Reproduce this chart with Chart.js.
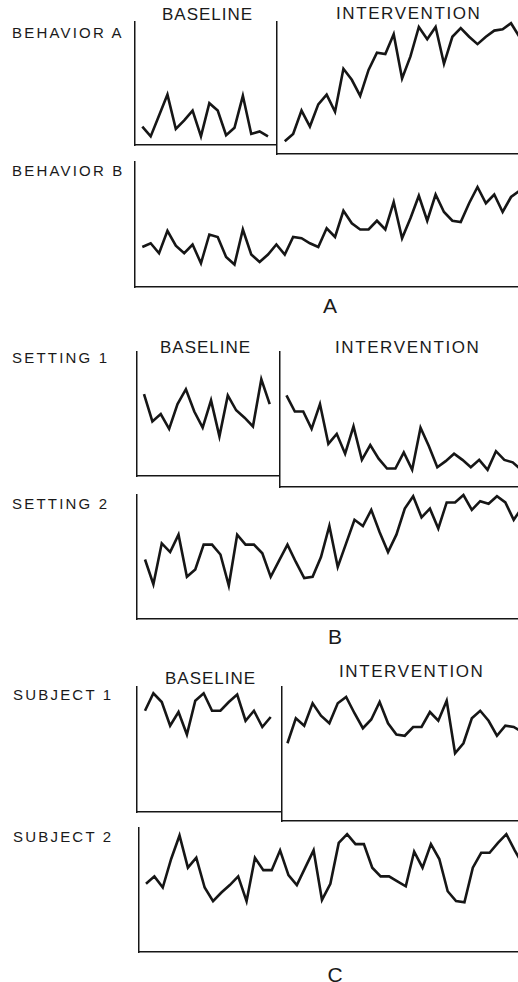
<!DOCTYPE html>
<html>
<head>
<meta charset="utf-8">
<script src="https://cdn.jsdelivr.net/npm/chart.js@4.4.1/dist/chart.umd.min.js"></script>
<style>
  html, body { margin: 0; padding: 0; background: #fff; }
  body { width: 518px; height: 982px; position: relative; overflow: hidden;
         font-family: "Liberation Sans", Arial, sans-serif; color: #1a1a1a; }
  canvas { position: absolute; }
  .lbl { position: absolute; white-space: nowrap; line-height: 1; }
  .side { font-size: 15px; letter-spacing: 2.2px; }
  .base { font-size: 17px; letter-spacing: 1px; }
  .int { font-size: 17px; letter-spacing: 1.6px; }
  .letter { font-size: 21px; width: 40px; text-align: center; }
</style>
</head>
<body>
<div class="lbl side" style="left:12px;top:25px">BEHAVIOR A</div>
<div class="lbl side" style="left:12px;top:163px">BEHAVIOR B</div>
<div class="lbl side" style="left:12px;top:350px">SETTING 1</div>
<div class="lbl side" style="left:12px;top:496px">SETTING 2</div>
<div class="lbl side" style="left:13px;top:687px">SUBJECT 1</div>
<div class="lbl side" style="left:13px;top:829px">SUBJECT 2</div>

<div class="lbl base" style="left:162px;top:6px">BASELINE</div>
<div class="lbl int" style="left:336px;top:5px">INTERVENTION</div>
<div class="lbl base" style="left:160px;top:339px">BASELINE</div>
<div class="lbl int" style="left:335px;top:339px">INTERVENTION</div>
<div class="lbl base" style="left:165px;top:670px">BASELINE</div>
<div class="lbl int" style="left:339px;top:663px">INTERVENTION</div>

<div class="lbl letter" style="left:310px;top:295px">A</div>
<div class="lbl letter" style="left:315px;top:626px">B</div>
<div class="lbl letter" style="left:315px;top:964px">C</div>

<script>
// sessions numbered from 0, intervention phase begins at session 17
var phaseStart = 17;

var behaviorA_base = [15, 7, 24, 41, 13, 20, 28, 7, 34, 28, 8, 14, 40, 9, 11, 7];
var behaviorA_int = [3, 9, 28, 15, 33, 41, 27, 62, 53, 40, 61, 75, 74, 90, 54, 72, 96, 86, 96, 66,
                     88, 95, 88, 82, 88, 93, 94, 99, 88];
var behaviorB = [32, 35, 27, 45, 33, 27, 34, 19, 42, 40, 24, 18, 46, 26, 20, 26, 34, 26, 40, 39,
                 35, 32, 47, 40, 61, 51, 46, 46, 53, 46, 68, 39, 55, 73, 53, 74, 60, 53, 52, 67,
                 80, 67, 74, 60, 72, 77];

var setting1_base = [66, 44, 50, 38, 58, 70, 52, 39, 61, 32, 65, 53, 47, 40, 78, 58];
var setting1_int = [65, 52, 52, 38, 58, 26, 34, 18, 40, 13, 25, 14, 6, 6, 19, 5, 39, 24, 7, 12,
                    18, 13, 7, 13, 5, 20, 13, 11, 5];
var setting2 = [48, 28, 61, 54, 68, 34, 40, 60, 60, 52, 27, 68, 60, 60, 53, 34, 47, 60, 46, 33,
                34, 50, 75, 42, 61, 80, 75, 88, 70, 54, 68, 89, 99, 82, 89, 73, 94, 94, 100, 88,
                95, 93, 99, 94, 80, 90];

var subject1_base = [81, 95, 88, 69, 80, 62, 89, 95, 81, 81, 88, 94, 73, 81, 68, 76];
var subject1_int = [55, 75, 69, 87, 77, 71, 87, 92, 79, 67, 74, 88, 71, 62, 61, 68, 68, 80, 73, 89,
                    47, 55, 75, 81, 73, 61, 69, 68, 64];
var subject2 = [55, 61, 52, 75, 94, 68, 76, 52, 41, 48, 54, 61, 41, 76, 66, 66, 82, 62, 54, 68,
                82, 42, 55, 88, 95, 87, 87, 68, 61, 61, 57, 53, 81, 68, 87, 75, 49, 41, 40, 68,
                80, 80, 88, 95, 82, 70];

var STEP = 8.38;   // px per session
var INK = "#161616";
var PAD = 2;

function points(values, start) {
  return values.map(function (v, i) { return { x: start + i, y: v }; });
}

// one chart = one set of axes (left + bottom line)
function addChart(left, top, right, bottom, firstX, yMin, values, start) {
  var c = document.createElement("canvas");
  c.width = right - left + PAD;
  c.height = bottom - top + PAD * 2;
  c.style.left = (left - PAD) + "px";
  c.style.top = (top - PAD) + "px";
  document.body.appendChild(c);
  var axis = function (min, max) {
    return {
      type: "linear", min: min, max: max,
      ticks: { display: false },
      grid: { display: false, drawTicks: false },
      border: { display: true, color: INK, width: 1.5 }
    };
  };
  return new Chart(c, {
    type: "line",
    data: {
      datasets: [{
        data: points(values, start),
        borderColor: INK,
        borderWidth: 2.6,
        pointRadius: 0,
        tension: 0,
        clip: false
      }]
    },
    options: {
      responsive: false,
      animation: false,
      events: [],
      layout: { padding: { left: PAD, top: PAD, right: 0, bottom: PAD } },
      plugins: { legend: { display: false }, tooltip: { enabled: false } },
      scales: {
        x: axis((left - firstX) / STEP, (right - firstX) / STEP),
        y: axis(yMin, 100)
      }
    }
  });
}

// panel with a baseline / intervention split and a staggered second axis
function splitPanel(g, base, inter) {
  addChart(g.axisX, g.top, g.phaseX, g.baseBottom, g.firstX, 0, base, 0);
  var drop = -(g.intBottom - g.baseBottom) / (g.baseBottom - g.top) * 100;
  addChart(g.phaseX, g.top, 518, g.intBottom, g.firstX, drop, inter, phaseStart);
}

function fullPanel(g, values) {
  addChart(g.axisX, g.top, 518, g.bottom, g.firstX, 0, values, 0);
}

splitPanel({ axisX: 135, phaseX: 277, top: 22, baseBottom: 145, intBottom: 154, firstX: 142.3 },
           behaviorA_base, behaviorA_int);
fullPanel({ axisX: 135, top: 162, bottom: 287, firstX: 142.3 }, behaviorB);

splitPanel({ axisX: 137, phaseX: 280, top: 352, baseBottom: 476, intBottom: 487, firstX: 144 },
           setting1_base, setting1_int);
fullPanel({ axisX: 137, top: 495, bottom: 619, firstX: 145 }, setting2);

splitPanel({ axisX: 137, phaseX: 282, top: 687, baseBottom: 812, intBottom: 821, firstX: 145 },
           subject1_base, subject1_int);
fullPanel({ axisX: 139, top: 828, bottom: 952, firstX: 146 }, subject2);
</script>
</body>
</html>
